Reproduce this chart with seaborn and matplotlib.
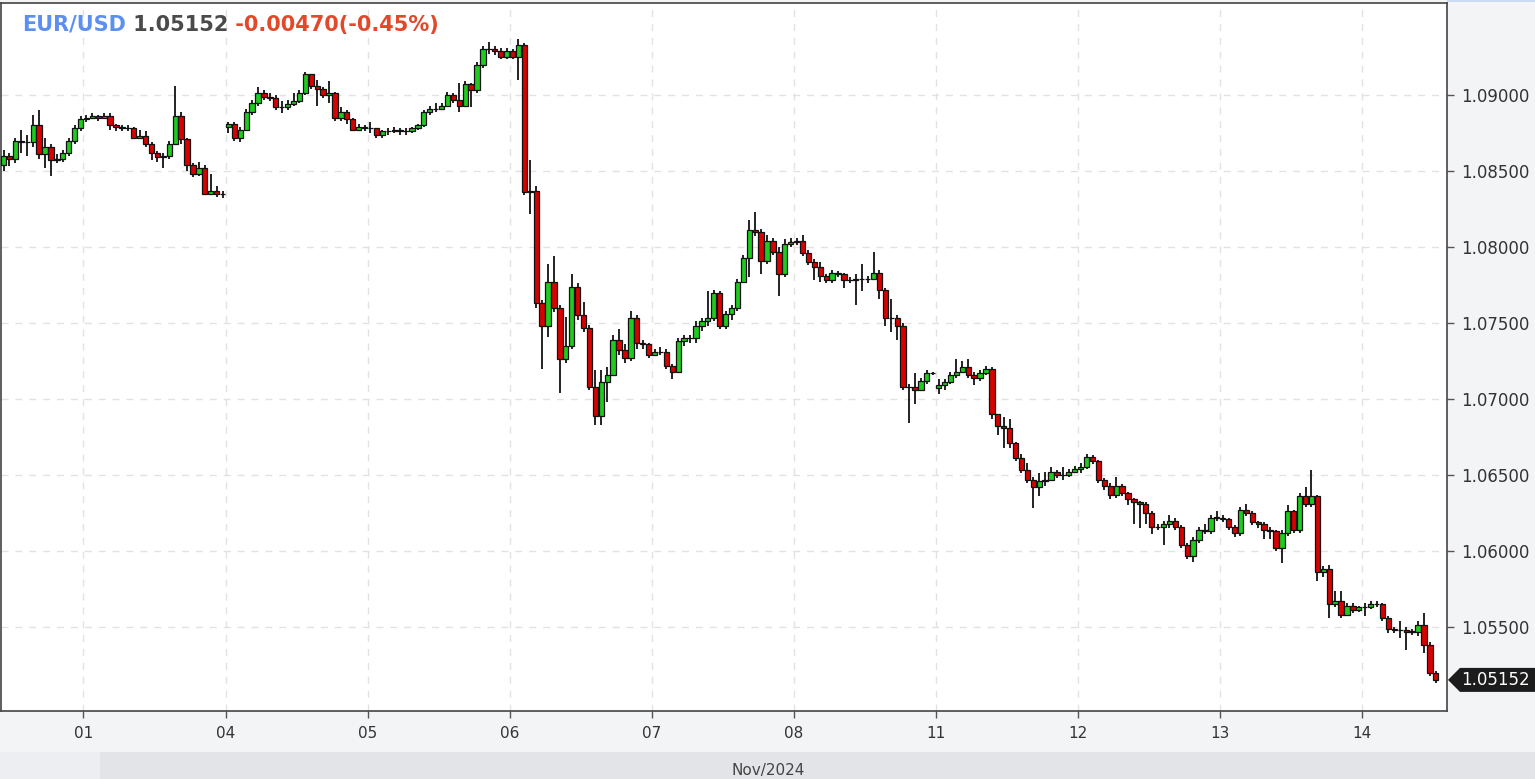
import numpy as np
import pandas as pd
import seaborn as sns
import matplotlib.pyplot as plt
from matplotlib.patches import Rectangle, Polygon

# EUR/USD hourly candles, 31 Oct 10:00 -> 14 Nov 12:00 (2024)
first_open = 1.0854
gap_opens = {38: 1.0879, 158: 1.0707}   # Monday opens after the weekend gap
day_labels = ["01", "04", "05", "06", "07", "08", "11", "12", "13", "14"]

closes = [
    # Oct 31
    1.0860, 1.0858, 1.0870, 1.0869, 1.0869, 1.0880, 1.0861, 1.0866, 1.0857, 1.0858, 1.0862, 1.0870, 1.0878, 1.0884,
    # Nov 01
    1.0885, 1.0886, 1.0885, 1.0886, 1.0880, 1.0879, 1.0878, 1.0878, 1.0872, 1.0873, 1.0868, 1.0862,
    1.0859, 1.0860, 1.0868, 1.0886, 1.0871, 1.0854, 1.0848, 1.0852, 1.0835, 1.0837, 1.0835, 1.0835,
    # Nov 04
    1.0881, 1.0872, 1.0877, 1.0889, 1.0895, 1.0901, 1.0899, 1.0898, 1.0892, 1.0892, 1.0894, 1.0896,
    1.0901, 1.0914, 1.0906, 1.0904, 1.0900, 1.0901, 1.0885, 1.0889, 1.0884, 1.0877, 1.0879, 1.0878,
    # Nov 05
    1.0878, 1.0874, 1.0876, 1.0876, 1.0877, 1.0876, 1.0876, 1.0878, 1.0880, 1.0889, 1.0891, 1.0891,
    1.0893, 1.0900, 1.0897, 1.0893, 1.0907, 1.0903, 1.0920, 1.0930, 1.0930, 1.0929, 1.0925, 1.0929,
    # Nov 06
    1.0925, 1.0933, 1.0836, 1.0837, 1.0763, 1.0748, 1.0777, 1.0760, 1.0726, 1.0735, 1.0774, 1.0755,
    1.0747, 1.0708, 1.0689, 1.0711, 1.0716, 1.0739, 1.0732, 1.0727, 1.0753, 1.0737, 1.0736, 1.0729,
    # Nov 07
    1.0731, 1.0731, 1.0722, 1.0718, 1.0738, 1.0740, 1.0740, 1.0748, 1.0751, 1.0753, 1.0770, 1.0748,
    1.0756, 1.0760, 1.0777, 1.0793, 1.0811, 1.0810, 1.0791, 1.0804, 1.0797, 1.0782, 1.0802, 1.0803,
    # Nov 08
    1.0804, 1.0796, 1.0790, 1.0787, 1.0781, 1.0778, 1.0783, 1.0782, 1.0778, 1.0778, 1.0779, 1.0779,
    1.0779, 1.0783, 1.0772, 1.0753, 1.0753, 1.0748, 1.0708, 1.0708, 1.0706, 1.0712, 1.0717, 1.0717,
    # Nov 11
    1.0709, 1.0711, 1.0716, 1.0718, 1.0721, 1.0716, 1.0714, 1.0717, 1.0720, 1.0690, 1.0682, 1.0681,
    1.0671, 1.0661, 1.0653, 1.0647, 1.0642, 1.0646, 1.0647, 1.0652, 1.0650, 1.0650, 1.0652, 1.0654,
    # Nov 12
    1.0655, 1.0662, 1.0659, 1.0647, 1.0643, 1.0637, 1.0643, 1.0638, 1.0634, 1.0632, 1.0631, 1.0625,
    1.0616, 1.0616, 1.0618, 1.0620, 1.0616, 1.0604, 1.0597, 1.0607, 1.0614, 1.0613, 1.0622, 1.0622,
    # Nov 13
    1.0621, 1.0616, 1.0612, 1.0627, 1.0625, 1.0619, 1.0618, 1.0614, 1.0613, 1.0602, 1.0612, 1.0626,
    1.0614, 1.0636, 1.0631, 1.0636, 1.0586, 1.0588, 1.0565, 1.0567, 1.0558, 1.0564, 1.0561, 1.0563,
    # Nov 14
    1.0563, 1.0565, 1.0565, 1.0556, 1.0549, 1.0548, 1.0548, 1.0547, 1.0547, 1.0551, 1.0538, 1.0520, 1.05152,
]

highs = [
    1.0864, 1.0862, 1.0872, 1.0877, 1.0874, 1.0887, 1.0890, 1.0872, 1.0868, 1.0861, 1.0864, 1.0872, 1.0880, 1.0886,
    1.0887, 1.0888, 1.0887, 1.0888, 1.0888, 1.0881, 1.0880, 1.0880, 1.0879, 1.0877, 1.0876, 1.0869,
    1.0863, 1.0862, 1.0870, 1.0906, 1.0889, 1.0872, 1.0855, 1.0856, 1.0854, 1.0848, 1.0840, 1.0837,
    1.0882, 1.0882, 1.0879, 1.0891, 1.0897, 1.0905, 1.0903, 1.0901, 1.0900, 1.0896, 1.0897, 1.0901,
    1.0903, 1.0915, 1.0914, 1.0910, 1.0905, 1.0909, 1.0902, 1.0892, 1.0890, 1.0885, 1.0881, 1.0880,
    1.0882, 1.0878, 1.0877, 1.0878, 1.0879, 1.0878, 1.0878, 1.0879, 1.0881, 1.0890, 1.0893, 1.0895,
    1.0895, 1.0902, 1.0901, 1.0908, 1.0909, 1.0908, 1.0922, 1.0932, 1.0935, 1.0932, 1.0931, 1.0931,
    1.0930, 1.0937, 1.0934, 1.0857, 1.0840, 1.0765, 1.0789, 1.0794, 1.0762, 1.0754, 1.0782, 1.0776,
    1.0764, 1.0749, 1.0719, 1.0719, 1.0721, 1.0742, 1.0746, 1.0736, 1.0758, 1.0755, 1.0739, 1.0737,
    1.0733, 1.0734, 1.0733, 1.0723, 1.0740, 1.0742, 1.0742, 1.0751, 1.0753, 1.0771, 1.0772, 1.0771,
    1.0758, 1.0762, 1.0779, 1.0795, 1.0818, 1.0823, 1.0812, 1.0808, 1.0806, 1.0800, 1.0805, 1.0806,
    1.0806, 1.0808, 1.0798, 1.0792, 1.0790, 1.0782, 1.0785, 1.0784, 1.0783, 1.0780, 1.0782, 1.0789,
    1.0781, 1.0797, 1.0785, 1.0773, 1.0766, 1.0755, 1.0750, 1.0710, 1.0717, 1.0714, 1.0719, 1.0718,
    1.0713, 1.0713, 1.0718, 1.0726, 1.0725, 1.0726, 1.0718, 1.0719, 1.0722, 1.0721, 1.0690, 1.0688,
    1.0687, 1.0672, 1.0664, 1.0658, 1.0649, 1.0651, 1.0652, 1.0655, 1.0653, 1.0655, 1.0654, 1.0656,
    1.0658, 1.0664, 1.0663, 1.0660, 1.0648, 1.0645, 1.0649, 1.0644, 1.0639, 1.0635, 1.0633, 1.0632,
    1.0626, 1.0618, 1.0620, 1.0624, 1.0622, 1.0617, 1.0605, 1.0609, 1.0616, 1.0618, 1.0624, 1.0626,
    1.0624, 1.0622, 1.0617, 1.0629, 1.0631, 1.0626, 1.0620, 1.0619, 1.0616, 1.0614, 1.0614, 1.0630,
    1.0627, 1.0638, 1.0642, 1.0653, 1.0637, 1.0590, 1.0591, 1.0574, 1.0574, 1.0566, 1.0566, 1.0564,
    1.0566, 1.0567, 1.0567, 1.0566, 1.0557, 1.0550, 1.0554, 1.0550, 1.0549, 1.0554, 1.0559, 1.0540, 1.0521,
]

lows = [
    1.0850, 1.0853, 1.0855, 1.0862, 1.0860, 1.0866, 1.0858, 1.0852, 1.0847, 1.0855, 1.0856, 1.0860, 1.0868, 1.0876,
    1.0882, 1.0884, 1.0883, 1.0884, 1.0877, 1.0876, 1.0876, 1.0876, 1.0871, 1.0871, 1.0866, 1.0857,
    1.0856, 1.0852, 1.0858, 1.0867, 1.0868, 1.0850, 1.0846, 1.0847, 1.0834, 1.0834, 1.0833, 1.0832,
    1.0875, 1.0870, 1.0869, 1.0876, 1.0887, 1.0893, 1.0897, 1.0896, 1.0890, 1.0888, 1.0890, 1.0893,
    1.0895, 1.0900, 1.0904, 1.0893, 1.0898, 1.0895, 1.0883, 1.0883, 1.0881, 1.0876, 1.0876, 1.0876,
    1.0875, 1.0872, 1.0872, 1.0874, 1.0875, 1.0874, 1.0874, 1.0875, 1.0877, 1.0879, 1.0887, 1.0889,
    1.0890, 1.0892, 1.0895, 1.0889, 1.0892, 1.0892, 1.0901, 1.0918, 1.0927, 1.0926, 1.0924, 1.0924,
    1.0924, 1.0910, 1.0834, 1.0822, 1.0760, 1.0720, 1.0741, 1.0757, 1.0704, 1.0724, 1.0733, 1.0752,
    1.0744, 1.0706, 1.0683, 1.0683, 1.0698, 1.0716, 1.0729, 1.0724, 1.0725, 1.0733, 1.0733, 1.0727,
    1.0728, 1.0729, 1.0720, 1.0713, 1.0717, 1.0735, 1.0737, 1.0737, 1.0745, 1.0748, 1.0751, 1.0746,
    1.0746, 1.0752, 1.0758, 1.0776, 1.0780, 1.0807, 1.0782, 1.0789, 1.0795, 1.0768, 1.0780, 1.0800,
    1.0801, 1.0794, 1.0788, 1.0778, 1.0777, 1.0776, 1.0776, 1.0780, 1.0773, 1.0776, 1.0762, 1.0771,
    1.0776, 1.0778, 1.0766, 1.0748, 1.0744, 1.0739, 1.0706, 1.0684, 1.0697, 1.0705, 1.0710, 1.0716,
    1.0703, 1.0706, 1.0710, 1.0714, 1.0717, 1.0714, 1.0709, 1.0712, 1.0716, 1.0687, 1.0676, 1.0668,
    1.0668, 1.0659, 1.0651, 1.0645, 1.0628, 1.0636, 1.0643, 1.0646, 1.0648, 1.0647, 1.0649, 1.0651,
    1.0651, 1.0654, 1.0657, 1.0645, 1.0640, 1.0634, 1.0635, 1.0636, 1.0630, 1.0618, 1.0615, 1.0618,
    1.0611, 1.0614, 1.0604, 1.0615, 1.0614, 1.0602, 1.0595, 1.0593, 1.0605, 1.0611, 1.0611, 1.0620,
    1.0619, 1.0614, 1.0609, 1.0610, 1.0623, 1.0617, 1.0615, 1.0608, 1.0608, 1.0600, 1.0592, 1.0610,
    1.0612, 1.0612, 1.0629, 1.0629, 1.0580, 1.0583, 1.0556, 1.0563, 1.0556, 1.0557, 1.0559, 1.0560,
    1.0557, 1.0562, 1.0563, 1.0554, 1.0546, 1.0546, 1.0543, 1.0535, 1.0545, 1.0544, 1.0533, 1.0518, 1.0513,
]

y_ticks = [1.055, 1.060, 1.065, 1.070, 1.075, 1.080, 1.085, 1.090]
last_price = 1.05152

# each candle opens where the previous one closed, except after weekends
opens = [first_open] + closes[:-1]
for i, v in gap_opens.items():
    opens[i] = v

df = pd.DataFrame({"open": opens, "high": highs, "low": lows, "close": closes})
df["x"] = np.arange(len(df))
df["up"] = df["close"] >= df["open"]
df["body_lo"] = df[["open", "close"]].min(axis=1)
df["body_h"] = (df["close"] - df["open"]).abs().clip(lower=0.000012)

W, H = 1535, 779
sns.set_theme(style="white")
plt.rcParams["font.family"] = ["DejaVu Sans"]

fig = plt.figure(figsize=(W / 100, H / 100), dpi=100, facecolor="#f3f4f6")
ax = fig.add_axes([0.5 / W, 1 - 711 / H, 1446.5 / W, 708 / H])
ax.set_facecolor("white")

# wicks then bodies
ax.vlines(df["x"], df["low"], df["high"], color="#222222", lw=1.4, zorder=2)
ax.bar(df["x"], df["body_h"], bottom=df["body_lo"], width=0.9,
       color=np.where(df["up"], "#1ecb1e", "#d90000"),
       edgecolor="#111111", linewidth=0.9, zorder=3)

ax.set_xlim(-0.52, 243.9)
ax.set_ylim(1.049474, 1.096053)

tick_pos = [13.5 + 24 * j for j in range(len(day_labels))]
ax.set_xticks(tick_pos)
ax.set_xticklabels(day_labels)
ax.yaxis.tick_right()
ax.set_yticks(y_ticks)
ax.set_yticklabels([f"{v:.5f}" for v in y_ticks])
ax.grid(True, ls=(0, (5, 5)), color="#e2e2e2", lw=1)
ax.tick_params(axis="x", length=5, width=1, color="#555555", labelsize=11,
               labelcolor="#333333", pad=6, bottom=True)
ax.tick_params(axis="y", length=5, width=1, color="#555555", labelsize=12,
               labelcolor="#333333", pad=5, right=True)
for side, sp in ax.spines.items():
    sp.set_visible(True)
    sp.set_color("#444444")
    sp.set_linewidth(1.2)

# title line
t1 = fig.text(22 / W, 1 - 25 / H, "EUR/USD", color="#5b8ff0", fontsize=15,
              fontweight="bold", va="center", ha="left")
t2 = ax.annotate(" 1.05152", xy=(1, 0), xycoords=t1, va="bottom", ha="left",
                 color="#4a4a4a", fontsize=15, fontweight="bold")
t3 = ax.annotate(" -0.00470(-0.45%)", xy=(1, 0), xycoords=t2, va="bottom", ha="left",
                 color="#e2492a", fontsize=15, fontweight="bold")

# last price tag on the right axis
y_tag = 711 - (last_price - 1.049474) / (1.096053 - 1.049474) * 708
tag = [(1448, y_tag), (1460, y_tag - 12), (1535, y_tag - 12), (1535, y_tag + 12), (1460, y_tag + 12)]
fig.patches.append(Polygon([(px / W, 1 - py / H) for px, py in tag], closed=True,
                           facecolor="#1c1c1c", edgecolor="none", transform=fig.transFigure))
fig.text(1461 / W, 1 - y_tag / H, f"{last_price:.5f}", color="white", fontsize=12,
         va="center", ha="left")

# bottom time band and top-right strip
fig.patches.append(Rectangle((0, 0), 100 / W, 27 / H, facecolor="#eceef1", edgecolor="none",
                             transform=fig.transFigure))
fig.patches.append(Rectangle((100 / W, 0), 1435 / W, 27 / H, facecolor="#e3e4e7", edgecolor="none",
                             transform=fig.transFigure))
fig.patches.append(Rectangle((1447 / W, 1 - 2 / H), 88 / W, 2 / H, facecolor="#c9dbf2", edgecolor="none",
                             transform=fig.transFigure))
fig.text(768 / W, 1 - 771 / H, "Nov/2024", color="#444444", fontsize=11, va="center", ha="center")

fig.savefig("out.png", dpi=100, facecolor=fig.get_facecolor())
